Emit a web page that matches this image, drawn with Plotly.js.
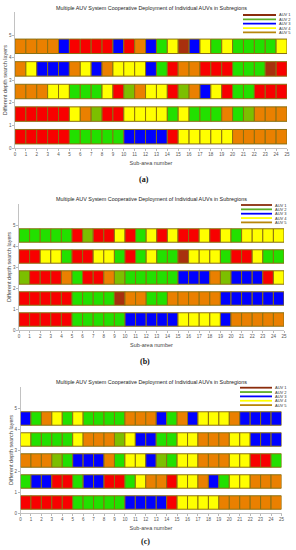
<!DOCTYPE html>
<html><head><meta charset="utf-8">
<script src="https://cdn.plot.ly/plotly-3.0.1.min.js"></script>
<style>html,body{margin:0;padding:0;background:#fff}#chart{width:296px;height:550px}</style>
</head><body><div id="chart"></div>
<script>
// Sub-area indices (cells) and tick labels
const subAreas = [0,1,2,3,4,5,6,7,8,9,10,11,12,13,14,15,16,17,18,19,20,21,22,23,24];
const xTicks = [0,1,2,3,4,5,6,7,8,9,10,11,12,13,14,15,16,17,18,19,20,21,22,23,24,25];
const yTicks = [0,1,2,3,4,5];
const layers = [1,2,3,4,5];
const auvNames = ['AUV 1','AUV 2','AUV 3','AUV 4','AUV 5'];
const auvColors = ['#8b2c0c','#5fae28','#0000ff','#ffff00','#b8860b'];
// cell colour codes: R red, O orange, G green, Y yellow, B blue, K brown, L olive-green
const codeColors = {R:'#f80000',O:'#ea8000',G:'#22e000',Y:'#ffff00',B:'#0000ff',K:'#a8300e',L:'#7cbf00'};
// rows listed from layer 1 (bottom) to layer 5 (top)
const panelA = [
 'RRRRRGGGGGBBBBRYYYYYOOOOO',
 'RRRRRYOLRRYYYYGYGGGOGLOOO',
 'OOOYYGGGYRLOYYRLOBYRGGRRR',
 'OYBBBOYBOYYYBGROORRRGGGKR',
 'OOOOBRRRRBROBGYKBYGYGGGGY'
];
const panelB = [
 'RRRRRGGGGGBBBBBYYYYBOOOOO',
 'RRRRRGGGGKOOGGOOOOOBBBBBB',
 'LRRROGRROLGGGGGBBBOLBBBRY',
 'RRYYGRRYYGRGYGGKYYYGRRYGG',
 'GGGGGRLRRYRGYRYRRYRYGYYYY'
];
const panelC = [
 'RRRRRGGGGGBBBBRYYYYOOOOOO',
 'GBBRRGBBRRGYOORYYOBGYYOOO',
 'OOOLGBBBOGYYBLGYYOOOYYRRG',
 'YGGGGYOOOLYBBGGYYOOOYYBBB',
 'BGOYGYGGGGOOOBGOBYYYOBBBB'
];
const panelLabels = ['(a)','(b)','(c)'];
const chartTitle = 'Multiple AUV System Cooperative Deployment of Individual AUVs in Subregions';

const W = 296, H = 550;
const px = v => v / W, py = v => 1 - v / H;
// panel geometry in pixels
const geo = [
 {x0:15, x1:287, yb:148, yt:12.4, title:8, xl:143.5, lab:179, leg:[243,15,276]},
 {x0:19, x1:284, yb:330, yt:204, title:199, xl:145, lab:361, leg:[241,205,272]},
 {x0:20.5, x1:281.5, yb:513, yt:387, title:382, xl:145, lab:541, leg:[240,387.7,272]}
];
const panels = [panelA, panelB, panelC];
const traces = [];
panels.forEach((rows, p) => {
  const sfx = p === 0 ? '' : String(p + 1);
  rows.forEach((row, r) => {
    const codes = row.split('');
    traces.push({
      type:'bar', orientation:'h',
      base: subAreas,
      x: subAreas.map(() => 1),
      y: subAreas.map(() => layers[r] - 0.5),
      width: 0.64,
      marker:{color: codes.map(c => codeColors[c]), line:{color:'#8a7012', width:1}},
      xaxis:'x' + sfx, yaxis:'y' + sfx,
      showlegend:false, hoverinfo:'skip'
    });
  });
});

const font = {family:'Liberation Sans, Arial, sans-serif', size:5, color:'#444'};
const layout = {
  width:W, height:H, margin:{l:0,r:0,t:0,b:0},
  paper_bgcolor:'#fff', plot_bgcolor:'#fff',
  font: font, barmode:'overlay', showlegend:false,
  annotations:[], shapes:[]
};
geo.forEach((g, p) => {
  const sfx = p === 0 ? '' : String(p + 1);
  layout['xaxis' + sfx] = {
    domain:[px(g.x0), px(g.x1)], anchor:'y' + sfx, range:[0,25],
    tickvals:xTicks, ticktext:xTicks.map(String), tickfont:{size:4.5, color:'#555'},
    ticks:'outside', ticklen:2, tickcolor:'#888', tickwidth:0.6,
    showline:true, linecolor:'#999', linewidth:0.6, showgrid:false, zeroline:false,
    title:{text:'Sub-area number', font:{size:5.5, color:'#444'}, standoff:4},
    fixedrange:true
  };
  layout['yaxis' + sfx] = {
    domain:[py(g.yb), py(g.yt)], anchor:'x' + sfx, range:[0,6],
    tickvals:yTicks, ticktext:yTicks.map(String), tickfont:{size:4.5, color:'#555'},
    ticks:'outside', ticklen:2, tickcolor:'#888', tickwidth:0.6,
    showline:true, linecolor:'#999', linewidth:0.6, showgrid:false, zeroline:false,
    title:{text:'Different depth search layers', font:{size:5.5, color:'#444'}, standoff:0},
    fixedrange:true
  };
  layout.annotations.push({
    xref:'paper', yref:'paper', x:px(151), y:py(g.title), xanchor:'center', yanchor:'middle',
    text:chartTitle, showarrow:false, font:{size:5.4, color:'#222'}
  });
  layout.annotations.push({
    xref:'paper', yref:'paper', x:px(g.xl), y:py(g.lab), xanchor:'center', yanchor:'middle',
    text:'<b>' + panelLabels[p] + '</b>', showarrow:false,
    font:{family:'Liberation Serif, Times New Roman, serif', size:8, color:'#111'}
  });
  const [lx0, ly0, lx1] = g.leg;
  auvNames.forEach((name, i) => {
    const yy = ly0 + i * 4.35;
    layout.shapes.push({type:'line', xref:'paper', yref:'paper',
      x0:px(lx0), x1:px(lx1), y0:py(yy), y1:py(yy),
      line:{color:auvColors[i], width:1.8}});
    layout.annotations.push({xref:'paper', yref:'paper', x:px(lx1 + 1), y:py(yy),
      xanchor:'left', yanchor:'middle', text:name, showarrow:false,
      font:{size:4, color:'#333'}});
  });
});
Plotly.newPlot('chart', traces, layout, {displayModeBar:false, staticPlot:true});
</script></body></html>
